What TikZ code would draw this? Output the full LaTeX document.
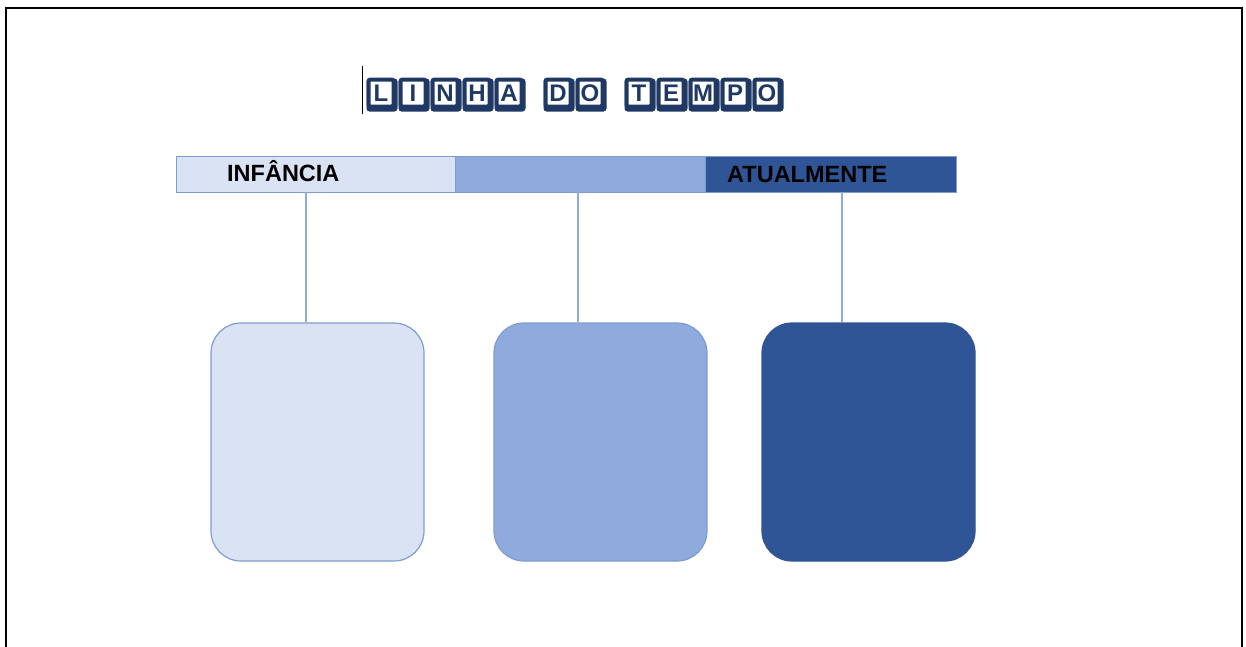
\documentclass[tikz,border=0pt]{standalone}
\usepackage{fontspec}
\setmainfont{Liberation Sans}
\definecolor{lightb}{HTML}{DAE3F3}
\definecolor{midb}{HTML}{8FAADC}
\definecolor{darkb}{HTML}{2F5597}
\definecolor{edgeb}{HTML}{7F9CCF}
\definecolor{titleb}{HTML}{1F3864}
\tikzset{
  seg/.style={draw=edgeb, line width=1pt, minimum height=36pt, inner sep=0pt, outer sep=0pt},
  lbl/.style={font=\fontsize{23.5}{26}\selectfont\bfseries, text=black, inner sep=0pt, anchor=base west},
  card/.style={draw=edgeb, line width=1.2pt, rounded corners=30pt, minimum width=213pt, minimum height=238pt, inner sep=0pt},
  link/.style={draw=midb, line width=1.3pt},
  titlechar/.style={draw=titleb, line width=4pt, fill=white, text=titleb, rounded corners=2pt,
     minimum width=25pt, minimum height=27pt, inner sep=0pt, font=\fontsize{24}{24}\selectfont\bfseries},
  titleshadow/.style={fill=titleb, rounded corners=3pt, minimum width=31pt, minimum height=33pt, inner sep=0pt},
  frame/.style={draw=black, line width=2.5pt}
}
\begin{document}
\begin{tikzpicture}[x=1pt,y=-1pt]
\useasboundingbox (0,0) rectangle (1246,646);
% frame
\coordinate (fbl) at (6,650);
\coordinate (ftl) at (6,8);
\coordinate (ftr) at (1242,8);
\coordinate (fbr) at (1242,650);
\draw[frame] (fbl) -- (ftl) -- (ftr) -- (fbr);
% title
\coordinate (cur1) at (362,66);
\coordinate (cur2) at (362,114);
\draw[black, line width=0.8pt] (cur1) -- (cur2);
\foreach \l [count=\i] in {L,I,N,H,A} {
  \node[titleshadow] at ({365+17+32*(\i-1)},95) {};
  \node[titlechar] (ta\i) at ({365+16+32*(\i-1)},93) {\l};
}
\foreach \l [count=\i] in {D,O} {
  \node[titleshadow] at ({542+17+32*(\i-1)},95) {};
  \node[titlechar] (tb\i) at ({542+16+32*(\i-1)},93) {\l};
}
\foreach \l [count=\i] in {T,E,M,P,O} {
  \node[titleshadow] at ({623+17+32*(\i-1)},95) {};
  \node[titlechar] (tc\i) at ({623+16+32*(\i-1)},93) {\l};
}
% timeline bar
\node[seg, fill=lightb, minimum width=279pt] (s1) at (315.5,174) {};
\node[seg, fill=midb, minimum width=250pt] (s2) at (580,174) {};
\node[seg, fill=darkb, minimum width=251pt] (s3) at (830.5,174) {};
\node[lbl] (l1) at (227,181) {INFÂNCIA};
\node[lbl] (l3) at (727,182) {ATUALMENTE};
% cards
\node[card, fill=lightb] (b1) at (317.5,442) {};
\node[card, fill=midb] (b2) at (600.5,442) {};
\node[card, fill=darkb, draw=darkb] (b3) at (868.5,442) {};
% links
\coordinate (c1) at (306,192);
\coordinate (c2) at (578,192);
\coordinate (c3) at (842,192);
\draw[link] (c1) -- (c1 |- b1.north);
\draw[link] (c2) -- (c2 |- b2.north);
\draw[link] (c3) -- (c3 |- b3.north);
\end{tikzpicture}
\end{document}
